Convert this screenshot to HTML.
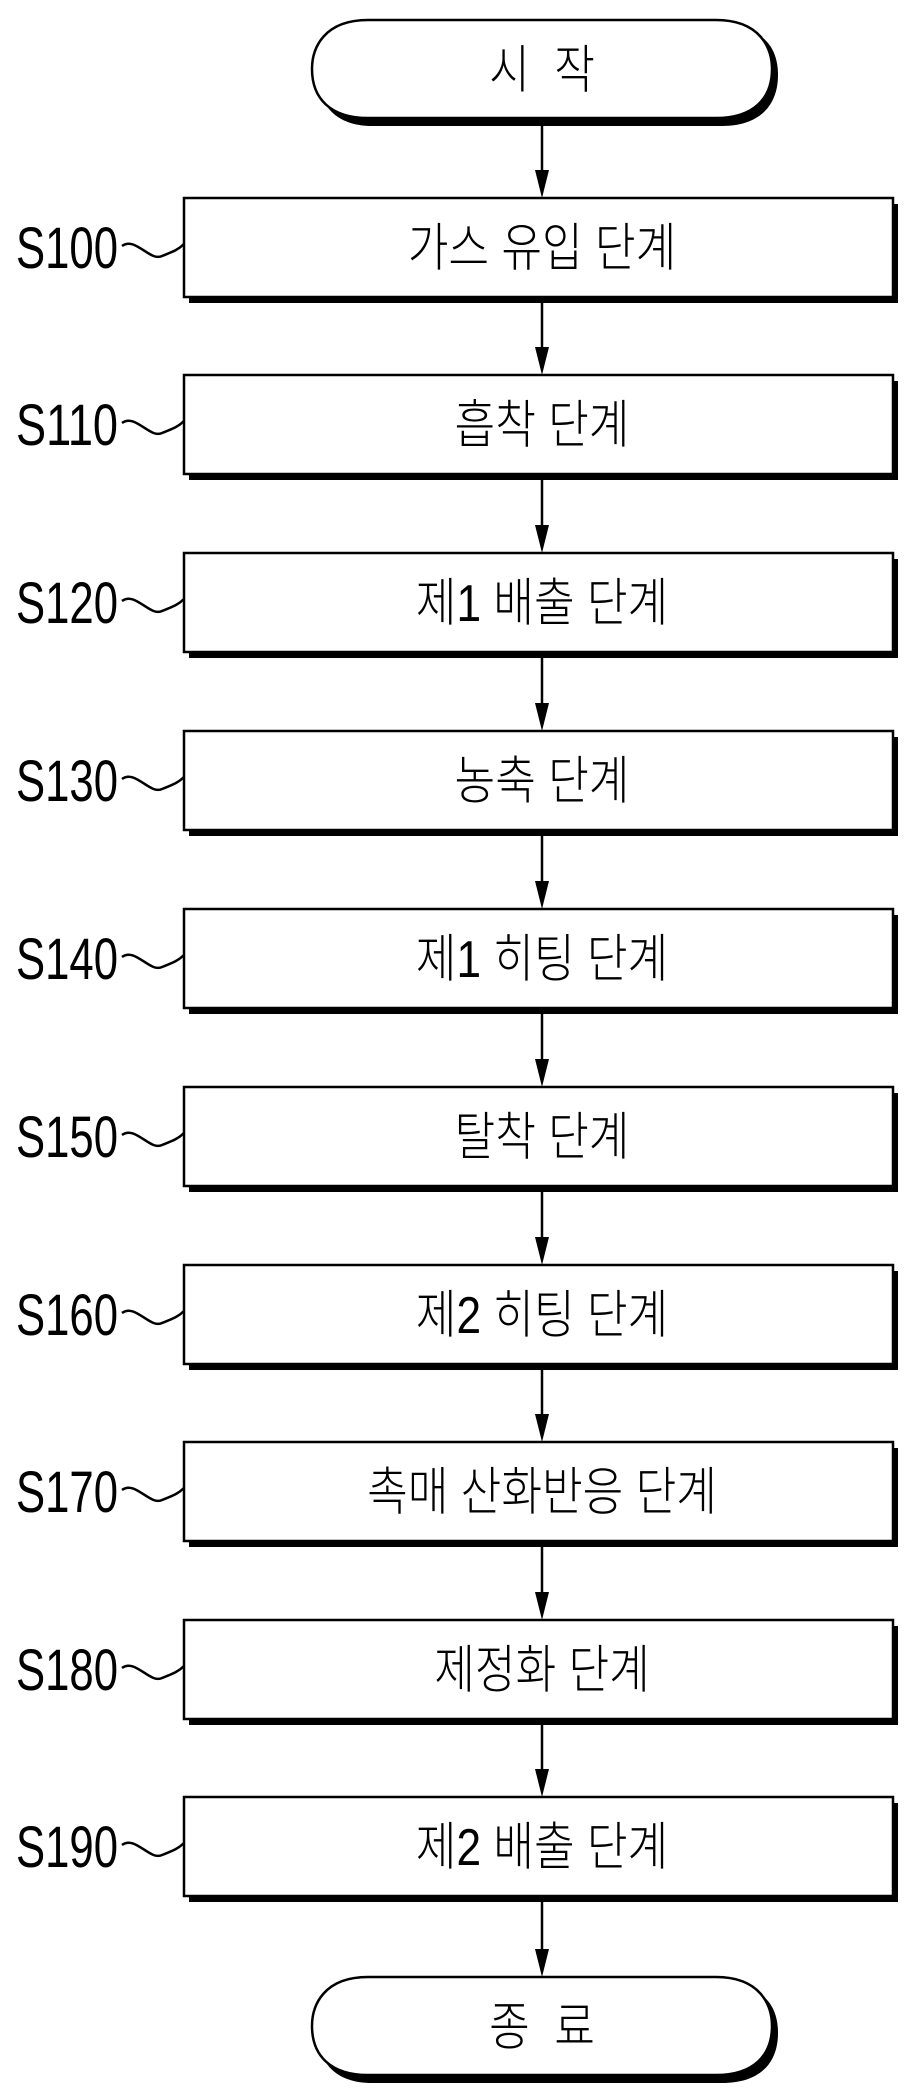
<!DOCTYPE html>
<html><head><meta charset="utf-8"><style>
html,body{margin:0;padding:0;background:#fff;}
svg{display:block;}
text{font-family:"Liberation Sans","Noto Sans CJK KR",sans-serif;fill:#000;}
.k{font-family:"Liberation Sans","Noto Sans CJK KR",sans-serif;font-size:52px;text-anchor:middle;font-weight:300;}
.l{font-size:58px;}
</style></head><body>
<svg width="920" height="2100" viewBox="0 0 920 2100" xmlns="http://www.w3.org/2000/svg">
<!-- start oval -->
<path d="M372,26 H722 C770,26 778,55 778,75 C778,105 760,126 722,126 H372 C336,126 318,105 318,75 C318,55 330,26 372,26 Z" fill="#000"/>
<path d="M368,20 H716 C760,20 772,48 772,69 C772,98 754,118 716,118 H368 C330,118 312,98 312,69 C312,48 324,20 368,20 Z" fill="#fff" stroke="#000" stroke-width="2.5"/>
<g transform="translate(542,88) scale(0.85,1)"><text class="k" x="0" y="0">시&#160;&#160;작</text></g>
<!-- end oval -->
<path d="M372,1984 H722 C770,1984 778,2013 778,2033 C778,2063 760,2083 722,2083 H372 C336,2083 318,2063 318,2033 C318,2013 330,1984 372,1984 Z" fill="#000"/>
<path d="M368,1977 H716 C760,1977 772,2005 772,2026 C772,2055 754,2075 716,2075 H368 C330,2075 312,2055 312,2026 C312,2005 324,1977 368,1977 Z" fill="#fff" stroke="#000" stroke-width="2.5"/>
<g transform="translate(542,2045) scale(0.85,1)"><text class="k" x="0" y="0">종&#160;&#160;료</text></g>
<g id="all"></g>
</svg>
<script>
var tops=[198,375,553,731,909,1087,1265,1442,1620,1797];
var labels=["S100","S110","S120","S130","S140","S150","S160","S170","S180","S190"];
var texts=["가스 유입 단계","흡착 단계","제1 배출 단계","농축 단계","제1 히팅 단계","탈착 단계","제2 히팅 단계","촉매 산화반응 단계","제정화 단계","제2 배출 단계"];
var h="";
function arrow(y1,y2){h+='<line x1="542" y1="'+y1+'" x2="542" y2="'+(y2-24)+'" stroke="#000" stroke-width="2.5"/><polygon points="535,'+(y2-28)+' 549,'+(y2-28)+' 542,'+y2+'" fill="#000"/>';}
arrow(126,198);
for(var i=0;i<10;i++){var t=tops[i];
h+='<rect x="189" y="'+(t+6)+'" width="709" height="99" fill="#000"/>';
h+='<rect x="184" y="'+t+'" width="709" height="99" fill="#fff" stroke="#000" stroke-width="2.5"/>';
h+='<g transform="translate(542,'+(t+68)+') scale(0.85,1)"><text class="k" x="0" y="0">'+texts[i]+'</text></g>';
h+='<text class="l" x="16" y="'+(t+70)+'" textLength="102" lengthAdjust="spacingAndGlyphs">'+labels[i]+'</text>';
var c=t+50;
h+='<path d="M122,'+(c-2)+' C135,'+(c-12)+' 150,'+(c+14)+' 162,'+(c+8)+' C172,'+(c+4)+' 178,'+(c+2)+' 184,'+(c-4)+'" fill="none" stroke="#000" stroke-width="2.5"/>';
var nt=(i<9)?tops[i+1]:1977;arrow(t+105,nt);}
document.getElementById('all').innerHTML=h;
</script>
</body></html>
